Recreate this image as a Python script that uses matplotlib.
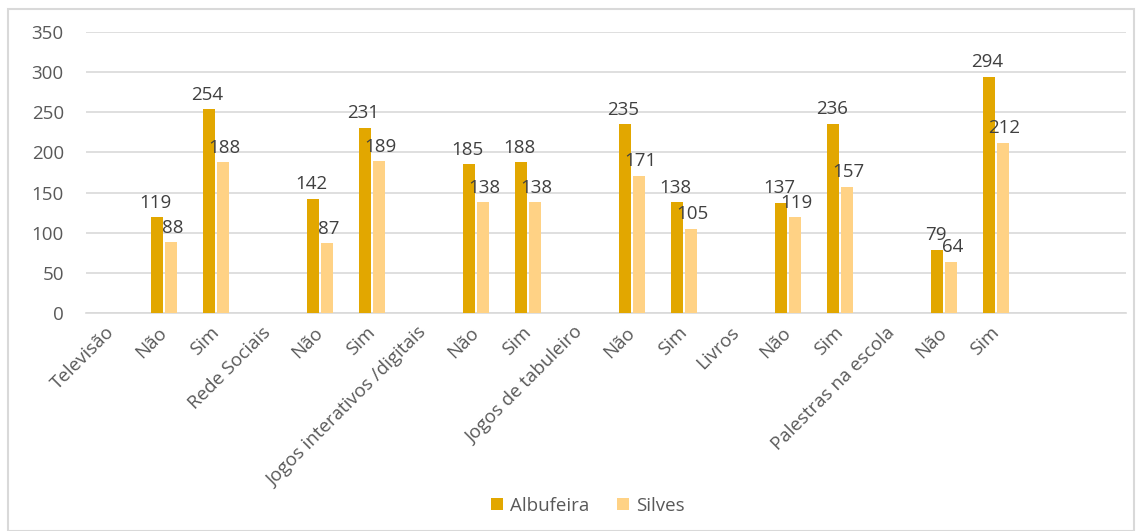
import numpy as np
import matplotlib.pyplot as plt
from matplotlib.patches import Rectangle

plt.rcParams['font.family'] = ['Open Sans', 'DejaVu Sans']

# dados
categorias = ['Televisão', 'Não', 'Sim', 'Rede Sociais', 'Não', 'Sim',
              'Jogos interativos /digitais', 'Não', 'Sim', 'Jogos de tabuleiro',
              'Não', 'Sim', 'Livros', 'Não', 'Sim', 'Palestras na escola',
              'Não', 'Sim', '', '']
albufeira = [None, 119, 254, None, 142, 231, None, 185, 188, None,
             235, 138, None, 137, 236, None, 79, 294, None, None]
silves = [None, 88, 188, None, 87, 189, None, 138, 138, None,
          171, 105, None, 119, 157, None, 64, 212, None, None]
y_ticks = [0, 50, 100, 150, 200, 250, 300, 350]

cor_alb = '#E2A700'
cor_sil = '#FFD285'
cor_txt = '#595959'
cor_lbl = '#404040'
fs = 13.5

fig = plt.figure(figsize=(11.42, 5.31), dpi=100)
fig.patches.append(Rectangle((8 / 1142, 0.0), 1126 / 1142, 1 - 9 / 531,
                             transform=fig.transFigure, fill=False,
                             edgecolor='#D9D9D9', linewidth=1.5))

ax = fig.add_axes([86 / 1142, 1 - 313 / 531, 1040 / 1142, 281 / 531])

x = np.arange(len(categorias))
w = 0.24
gap = 0.03
xa = [i for i, v in zip(x, albufeira) if v is not None]
va = [v for v in albufeira if v is not None]
xs = [i for i, v in zip(x, silves) if v is not None]
vs = [v for v in silves if v is not None]

b1 = ax.bar(np.array(xa) - w / 2 - gap / 2, va, width=w, color=cor_alb,
            label='Albufeira', zorder=3)
b2 = ax.bar(np.array(xs) + w / 2 + gap / 2, vs, width=w, color=cor_sil,
            label='Silves', zorder=3)

for rect, v in zip(b1, va):
    ax.annotate(str(v), (rect.get_x() + rect.get_width() / 2, v),
                xytext=(-1, 4), textcoords='offset points', ha='center',
                va='bottom', fontsize=fs, color=cor_lbl, zorder=4)
for rect, v in zip(b2, vs):
    ax.annotate(str(v), (rect.get_x() + rect.get_width() / 2, v),
                xytext=(1, 4), textcoords='offset points', ha='center',
                va='bottom', fontsize=fs, color=cor_lbl, zorder=4)

ax.set_xlim(-0.5, len(categorias) - 0.5)
ax.set_ylim(0, 350)
ax.set_yticks(y_ticks)
ax.set_yticklabels([str(t) for t in y_ticks], fontsize=fs, color=cor_txt)
ax.yaxis.grid(True, color='#D9D9D9', linewidth=1.2, zorder=0)
ax.set_axisbelow(True)
ax.tick_params(axis='both', length=0)
ax.tick_params(axis='y', pad=16)

ax.set_xticks(x)
ax.set_xticklabels(categorias, rotation=45, ha='right', va='center',
                   rotation_mode='anchor', fontsize=fs, color=cor_txt)
ax.tick_params(axis='x', pad=12)

for s in ['top', 'right', 'left']:
    ax.spines[s].set_visible(False)
ax.spines['bottom'].set_color('#D9D9D9')
ax.spines['bottom'].set_linewidth(1.2)

fig.legend(handles=[b1, b2], labels=['Albufeira', 'Silves'], loc='center',
           bbox_to_anchor=(588 / 1142, 1 - 506 / 531), ncol=2, frameon=False,
           fontsize=fs, handlelength=0.6, handleheight=0.6, handletextpad=0.4,
           columnspacing=1.5, labelcolor=cor_txt)

fig.savefig('out.png', dpi=100)
